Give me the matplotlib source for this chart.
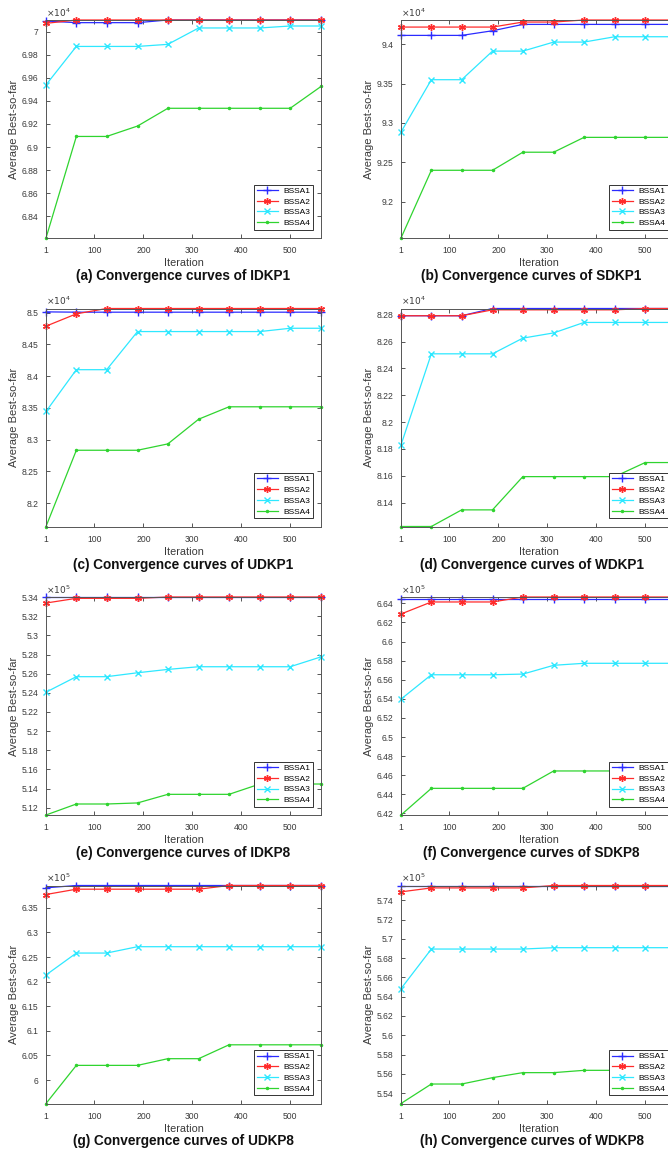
import numpy as np
import matplotlib.pyplot as plt
from matplotlib.ticker import MultipleLocator, FormatStrFormatter

plt.rcParams['font.family'] = ['Liberation Sans', 'DejaVu Sans']

# sampled iterations
it = [1, 63, 125, 188, 250, 313, 375, 438, 500, 563]
names = ['BSSA1', 'BSSA2', 'BSSA3', 'BSSA4']

# (a) IDKP1  (x1e4)
idkp1_1 = [70092, 70078, 70078, 70078, 70101, 70101, 70101, 70101, 70101, 70101]
idkp1_2 = [70072, 70101, 70101, 70101, 70101, 70101, 70101, 70101, 70101, 70101]
idkp1_3 = [69539, 69872, 69872, 69872, 69890, 70032, 70032, 70032, 70049, 70049]
idkp1_4 = [68212, 69092, 69092, 69182, 69336, 69336, 69336, 69336, 69336, 69525]
# (b) SDKP1
sdkp1_1 = [94115, 94115, 94115, 94174, 94255, 94255, 94255, 94255, 94255, 94255]
sdkp1_2 = [94221, 94221, 94221, 94221, 94285, 94285, 94311, 94311, 94311, 94311]
sdkp1_3 = [92885, 93551, 93551, 93915, 93915, 94030, 94030, 94098, 94098, 94098]
sdkp1_4 = [91536, 92398, 92398, 92398, 92628, 92628, 92817, 92817, 92817, 92817]
# (c) UDKP1
udkp1_1 = [85010, 85005, 85005, 85005, 85005, 85005, 85005, 85005, 85005, 85005]
udkp1_2 = [84785, 84979, 85063, 85063, 85063, 85063, 85063, 85063, 85063, 85063]
udkp1_3 = [83442, 84100, 84100, 84700, 84700, 84700, 84700, 84700, 84752, 84752]
udkp1_4 = [81632, 82832, 82832, 82832, 82932, 83321, 83516, 83516, 83516, 83516]
# (d) WDKP1
wdkp1_1 = [82793, 82793, 82793, 82847, 82847, 82847, 82847, 82847, 82847, 82847]
wdkp1_2 = [82793, 82793, 82793, 82837, 82837, 82837, 82837, 82837, 82847, 82847]
wdkp1_3 = [81829, 82509, 82509, 82509, 82626, 82665, 82743, 82743, 82743, 82743]
wdkp1_4 = [81221, 81221, 81345, 81345, 81593, 81593, 81593, 81593, 81698, 81698]
# (e) IDKP8  (x1e5)
idkp8_1 = [534020, 534020, 534020, 534020, 534020, 534020, 534020, 534020, 534020, 534020]
idkp8_2 = [533390, 533880, 533880, 533880, 534020, 534020, 534020, 534020, 534020, 534020]
idkp8_3 = [524070, 525690, 525690, 526100, 526450, 526730, 526730, 526730, 526730, 527760]
idkp8_4 = [511230, 512380, 512380, 512490, 513390, 513390, 513390, 514470, 514470, 514470]
# (f) SDKP8
sdkp8_1 = [664490, 664490, 664490, 664490, 664490, 664490, 664490, 664490, 664490, 664490]
sdkp8_2 = [662880, 664140, 664140, 664140, 664660, 664660, 664660, 664660, 664660, 664660]
sdkp8_3 = [653970, 656520, 656520, 656520, 656590, 657510, 657720, 657720, 657720, 657720]
sdkp8_4 = [641840, 644630, 644630, 644630, 644630, 646450, 646450, 646450, 646450, 646450]
# (g) UDKP8
udkp8_1 = [639080, 639550, 639550, 639550, 639550, 639550, 639550, 639550, 639550, 639550]
udkp8_2 = [637720, 638800, 638800, 638800, 638800, 638800, 639550, 639550, 639550, 639550]
udkp8_3 = [621360, 625820, 625820, 627110, 627110, 627110, 627110, 627110, 627110, 627110]
udkp8_4 = [595240, 602990, 602990, 602990, 604350, 604350, 607170, 607170, 607170, 607170]
# (h) WDKP8
wdkp8_1 = [575530, 575530, 575530, 575530, 575530, 575530, 575530, 575530, 575530, 575530]
wdkp8_2 = [574870, 575280, 575280, 575280, 575280, 575530, 575530, 575530, 575530, 575530]
wdkp8_3 = [564830, 568940, 568940, 568940, 568940, 569080, 569080, 569080, 569080, 569080]
wdkp8_4 = [552920, 554940, 554940, 555600, 556120, 556120, 556360, 556360, 556360, 556360]

panels = [
    ('(a) Convergence curves of IDKP1', [idkp1_1, idkp1_2, idkp1_3, idkp1_4], 4, 0.02),
    ('(b) Convergence curves of SDKP1', [sdkp1_1, sdkp1_2, sdkp1_3, sdkp1_4], 4, 0.05),
    ('(c) Convergence curves of UDKP1', [udkp1_1, udkp1_2, udkp1_3, udkp1_4], 4, 0.05),
    ('(d) Convergence curves of WDKP1', [wdkp1_1, wdkp1_2, wdkp1_3, wdkp1_4], 4, 0.02),
    ('(e) Convergence curves of IDKP8', [idkp8_1, idkp8_2, idkp8_3, idkp8_4], 5, 0.02),
    ('(f) Convergence curves of SDKP8', [sdkp8_1, sdkp8_2, sdkp8_3, sdkp8_4], 5, 0.02),
    ('(g) Convergence curves of UDKP8', [udkp8_1, udkp8_2, udkp8_3, udkp8_4], 5, 0.05),
    ('(h) Convergence curves of WDKP8', [wdkp8_1, wdkp8_2, wdkp8_3, wdkp8_4], 5, 0.02),
]

colors = ['#2b2bff', '#ff2b2b', '#2ee8ff', '#2fd42f']
markers = ['+', (6, 2, 0), 'x', '.']
msizes = [6, 5, 5, 3]

W, H = 668, 1154
fig = plt.figure(figsize=(W / 100, H / 100), dpi=100)
gray = '#3a3a3a'

for k, (title, series, exp, step) in enumerate(panels):
    row, col = k // 2, k % 2
    left = 46 if col == 0 else 401
    top = 20 + row * 288.5
    aw, ah = 275, 218
    ax = fig.add_axes([left / W, 1 - (top + ah) / H, aw / W, ah / H])
    scale = 10 ** exp
    for s, name, c, m, ms in zip(series, names, colors, markers, msizes):
        ax.plot(it, np.array(s) / scale, color=c, marker=m, markersize=ms,
                markeredgewidth=1.0, linewidth=0.9, label=name, clip_on=False)
    allv = np.concatenate([np.array(s) for s in series]) / scale
    ax.set_xlim(it[0], it[-1])
    ax.set_ylim(allv.min(), allv.max())
    ax.set_xticks([1, 100, 200, 300, 400, 500])
    ax.yaxis.set_major_locator(MultipleLocator(step))
    ax.yaxis.set_major_formatter(FormatStrFormatter('%g'))
    ax.tick_params(direction='in', top=True, right=True, labelsize=6.2,
                   colors=gray, length=3, width=0.6)
    ax.tick_params(axis='y', pad=5.5)
    ax.tick_params(axis='x', pad=6)
    for sp in ax.spines.values():
        sp.set_color('#555555')
        sp.set_linewidth(0.7)
    ax.set_xlabel('Iteration', fontsize=7.8, color=gray, labelpad=2)
    ax.set_ylabel('Average Best-so-far', fontsize=8, color=gray, labelpad=2)
    ax.text(0.0, 1.005, r'$\times10^{%d}$' % exp, transform=ax.transAxes,
            fontsize=6.5, color=gray, ha='left', va='bottom')
    leg = ax.legend(loc='lower right', fontsize=6, frameon=True, fancybox=False,
                    handlelength=2.6, borderpad=0.3, labelspacing=0.35,
                    handletextpad=0.6, borderaxespad=1.0, framealpha=1)
    leg.get_frame().set_edgecolor('#333333')
    leg.get_frame().set_linewidth(0.7)
    tx = left + aw / 2 if col == 0 else left + aw / 2 - 7
    fig.text(tx / W, 1 - (top + 256) / H, title, fontsize=9.8,
             fontweight='bold', ha='center', va='center', color='#111111')

fig.savefig('out.png', dpi=100)
